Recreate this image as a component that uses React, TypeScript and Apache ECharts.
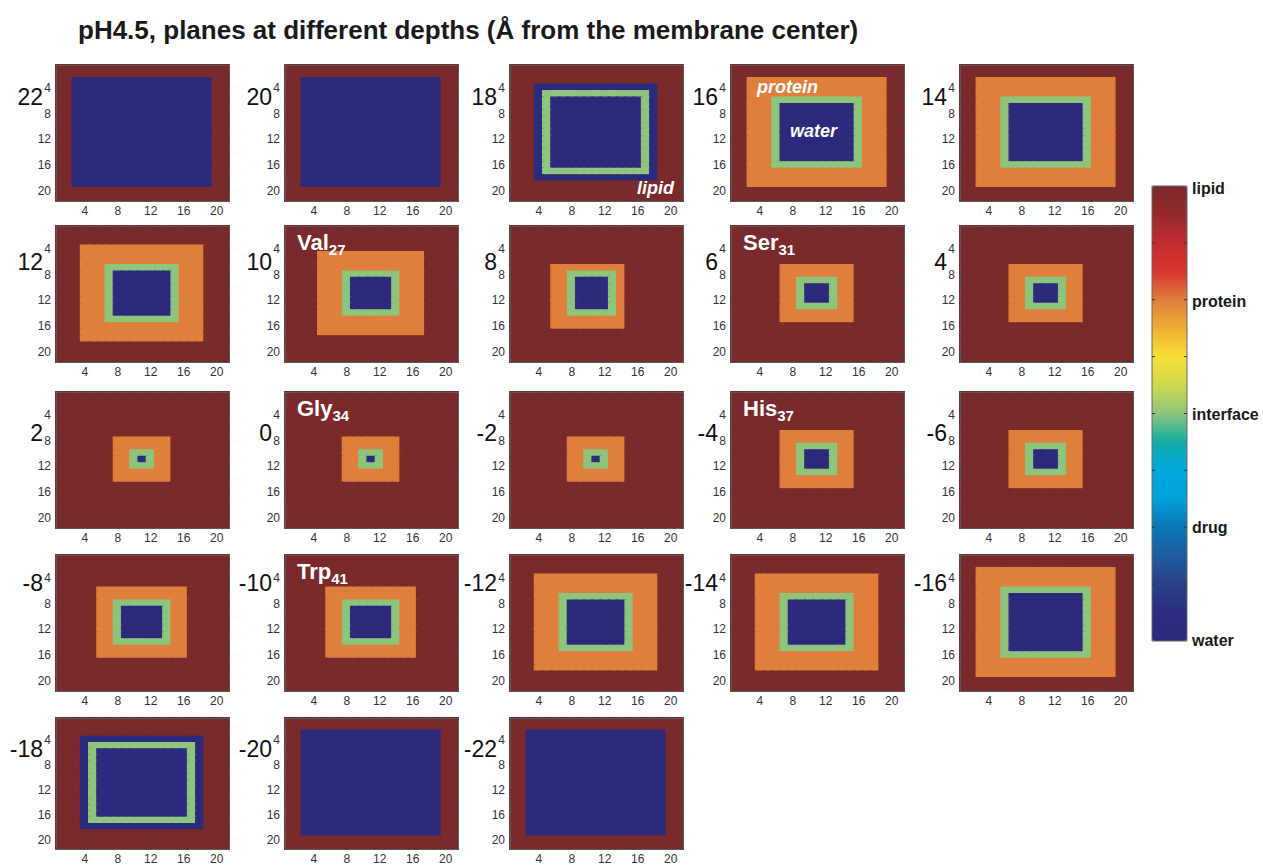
import React, { useEffect, useRef } from 'react';
import * as echarts from 'echarts';

const TITLE = 'pH4.5, planes at different depths (Å from the membrane center)';
const DEPTHS = [22, 20, 18, 16, 14, 12, 10, 8, 6, 4, 2, 0, -2, -4, -6, -8, -10, -12, -14, -16, -18, -20, -22];
const CELLS = ['1', '2', '3', '4', '5', '6', '7', '8', '9', '10', '11', '12', '13', '14', '15', '16', '17', '18', '19', '20', '21'];
const TICK_LABELS = ['4', '8', '12', '16', '20'];
const LEVEL_NAMES = ['water', 'drug', 'interface', 'protein', 'lipid']; // values 1..5

const W = 1; // water
const I = 3; // interface
const P = 4; // protein
const L = 5; // lipid (background)

// boxes: [level, firstCol, lastCol, firstRow, lastRow], painted in order over lipid
const PANEL_BOXES: number[][][] = [
  [[W, 3, 19, 3, 19]], // 22
  [[W, 3, 19, 3, 19]], // 20
  [[W, 4, 18, 4, 18], [I, 5, 17, 5, 17], [W, 6, 16, 6, 16]], // 18
  [[P, 3, 19, 3, 19], [I, 6, 16, 6, 16], [W, 7, 15, 7, 15]], // 16
  [[P, 3, 19, 3, 19], [I, 6, 16, 6, 16], [W, 7, 15, 7, 15]], // 14
  [[P, 4, 18, 4, 18], [I, 7, 15, 7, 15], [W, 8, 14, 8, 14]], // 12
  [[P, 5, 17, 5, 17], [I, 8, 14, 8, 14], [W, 9, 13, 9, 13]], // 10
  [[P, 6, 14, 7, 16], [I, 8, 13, 8, 14], [W, 9, 12, 9, 13]], // 8
  [[P, 7, 15, 7, 15], [I, 9, 13, 9, 13], [W, 10, 12, 10, 12]], // 6
  [[P, 7, 15, 7, 15], [I, 9, 13, 9, 13], [W, 10, 12, 10, 12]], // 4
  [[P, 8, 14, 8, 14], [I, 10, 12, 10, 12], [W, 11, 11, 11, 11]], // 2
  [[P, 8, 14, 8, 14], [I, 10, 12, 10, 12], [W, 11, 11, 11, 11]], // 0
  [[P, 8, 14, 8, 14], [I, 10, 12, 10, 12], [W, 11, 11, 11, 11]], // -2
  [[P, 7, 15, 7, 15], [I, 9, 13, 9, 13], [W, 10, 12, 10, 12]], // -4
  [[P, 7, 15, 7, 15], [I, 9, 13, 9, 13], [W, 10, 12, 10, 12]], // -6
  [[P, 6, 16, 6, 16], [I, 8, 14, 8, 14], [W, 9, 13, 9, 13]], // -8
  [[P, 6, 16, 6, 16], [I, 8, 14, 8, 14], [W, 9, 13, 9, 13]], // -10
  [[P, 4, 18, 4, 18], [I, 7, 15, 7, 15], [W, 8, 14, 8, 14]], // -12
  [[P, 4, 18, 4, 18], [I, 7, 15, 7, 15], [W, 8, 14, 8, 14]], // -14
  [[P, 3, 19, 3, 19], [I, 6, 16, 6, 16], [W, 7, 15, 7, 15]], // -16
  [[W, 4, 18, 4, 18], [I, 5, 17, 5, 17], [W, 6, 16, 6, 16]], // -18
  [[W, 3, 19, 3, 19]], // -20
  [[W, 3, 19, 3, 19]], // -22
];

const RESIDUE_NAMES = ['Val', 'Ser', 'Gly', 'His', 'Trp'];
const RESIDUE_NUMBERS = ['27', '31', '34', '37', '41'];
const RESIDUE_DEPTHS = [10, 6, 0, -4, -10];

// jet-like colormap, water (bottom) -> lipid (top)
const CMAP = [
  '#2b2a7c', '#2b2d80', '#2a4088', '#1d5c9e', '#0b76b5', '#00a2da', '#00a7df', '#14aba5',
  '#8cc57b', '#cfd94f', '#f8e035', '#eeae35', '#e07e3b', '#d8352f', '#c02d2f', '#952a2c', '#7a2a2b',
];

const FONT = "'Liberation Sans', Arial, Helvetica, sans-serif";
const COL_LEFT = [56, 285, 510, 731, 960];
const ROW_TOP = [65, 226, 392, 555, 718];
const ROW_LABEL_DY = [32, 36, 41, 28, 31];
const PW = 173;
const PH = 136;
const CB = { x: 1152, y: 186, w: 35, h: 455 };

function levelColor(v: number) {
  return CMAP[Math.round(((v - 1) / (LEVEL_NAMES.length - 1)) * (CMAP.length - 1))];
}

function panelData(boxes: number[][]) {
  const n = CELLS.length;
  const g: number[][] = [];
  for (let r = 0; r < n; r++) {
    g.push([]);
    for (let c = 0; c < n; c++) g[r].push(L);
  }
  boxes.forEach(([v, c0, c1, r0, r1]) => {
    for (let r = r0; r <= r1; r++) for (let c = c0; c <= c1; c++) g[r - 1][c - 1] = v;
  });
  const out: any[] = [];
  for (let r = 0; r < n; r++) {
    for (let c = 0; c < n; c++) {
      out.push({ value: [c, r, g[r][c]], itemStyle: { borderColor: levelColor(g[r][c]), borderWidth: 1.4 } });
    }
  }
  return out;
}

function measure(text: string, font: string) {
  const ctx = document.createElement('canvas').getContext('2d');
  if (!ctx) return text.length * 10;
  ctx.font = font;
  return ctx.measureText(text).width;
}

export default function App() {
  const ref = useRef<HTMLDivElement>(null);
  useEffect(() => {
    if (!ref.current) return;
    const chart = echarts.init(ref.current, null, { renderer: 'svg' });
    const grids: any[] = [];
    const xAxes: any[] = [];
    const yAxes: any[] = [];
    const series: any[] = [];
    const graphic: any[] = [];
    const labelShown = (idx: number) => TICK_LABELS.indexOf(CELLS[idx]) >= 0;
    const tickShown = (idx: number) => (idx + 1) % 2 === 0;
    const lineStyle = { color: '#5a5a5a', width: 1 };
    const tickStyle = { color: '#444', width: 1 };

    DEPTHS.forEach((depth, i) => {
      const col = i % 5;
      const row = Math.floor(i / 5);
      const left = COL_LEFT[col];
      const top = ROW_TOP[row];
      grids.push({ left, top, width: PW, height: PH, containLabel: false });
      const baseAxis = {
        type: 'category',
        gridIndex: i,
        data: CELLS,
        z: 10,
        axisLine: { show: true, lineStyle },
        axisTick: { show: true, inside: true, length: 3, alignWithLabel: true, interval: tickShown, lineStyle: tickStyle },
        splitLine: { show: false },
        splitArea: { show: false },
      };
      xAxes.push({
        ...baseAxis,
        position: 'bottom',
        axisLabel: { show: true, interval: labelShown, fontSize: 12, color: '#333', margin: 4, fontFamily: FONT },
      });
      xAxes.push({ ...baseAxis, position: 'top', axisLabel: { show: false } });
      yAxes.push({
        ...baseAxis,
        inverse: true,
        position: 'left',
        axisLabel: { show: true, interval: labelShown, fontSize: 12, color: '#333', margin: 5, fontFamily: FONT },
      });
      yAxes.push({ ...baseAxis, inverse: true, position: 'right', axisLabel: { show: false } });
      series.push({
        type: 'heatmap',
        xAxisIndex: 2 * i,
        yAxisIndex: 2 * i,
        data: panelData(PANEL_BOXES[i]),
        emphasis: { disabled: true },
        silent: true,
        progressive: 0,
      });
      graphic.push({
        type: 'text',
        x: left - 13,
        y: top + ROW_LABEL_DY[row],
        style: {
          text: String(depth), fill: '#111', fontSize: 23, fontFamily: FONT,
          textAlign: 'right', align: 'right', textVerticalAlign: 'middle', verticalAlign: 'middle',
        },
      });
    });

    // title
    graphic.push({
      type: 'text', x: 78, y: 30,
      style: {
        text: TITLE, fill: '#1a1a1a', fontSize: 26, fontWeight: 'bold', fontFamily: FONT,
        textAlign: 'left', align: 'left', textVerticalAlign: 'middle', verticalAlign: 'middle',
      },
    });

    const white = (text: string, x: number, y: number, size: number, italic: boolean) => ({
      type: 'text', x, y, z: 50,
      style: {
        text, fill: '#ffffff', fontSize: size, fontWeight: 'bold', fontStyle: italic ? 'italic' : 'normal',
        fontFamily: FONT, textAlign: 'left', align: 'left', textVerticalAlign: 'middle', verticalAlign: 'middle',
      },
    });

    // region labels on the +16 and +18 panels
    const p16 = DEPTHS.indexOf(16);
    const p18 = DEPTHS.indexOf(18);
    graphic.push(white('protein', COL_LEFT[p16 % 5] + 26, ROW_TOP[Math.floor(p16 / 5)] + 22, 18, true));
    graphic.push(white('water', COL_LEFT[p16 % 5] + 59, ROW_TOP[Math.floor(p16 / 5)] + 66, 18, true));
    graphic.push(white('lipid', COL_LEFT[p18 % 5] + 127, ROW_TOP[Math.floor(p18 / 5)] + 123, 18, true));

    // residue labels
    RESIDUE_NAMES.forEach((name, k) => {
      const idx = DEPTHS.indexOf(RESIDUE_DEPTHS[k]);
      const x = COL_LEFT[idx % 5] + 12;
      const y = ROW_TOP[Math.floor(idx / 5)] + 16.5;
      const w = measure(name, `bold 22px ${FONT}`);
      graphic.push(white(name, x, y, 22, false));
      graphic.push(white(RESIDUE_NUMBERS[k], x + w, y + 7, 15, false));
    });

    // colorbar frame, ticks and labels
    graphic.push({
      type: 'rect', z: 60,
      shape: { x: CB.x, y: CB.y, width: CB.w, height: CB.h },
      style: { fill: 'none', stroke: '#666', lineWidth: 1 },
    });
    for (let k = 1; k < 8; k++) {
      const ty = CB.y + (k * CB.h) / 8;
      graphic.push({ type: 'line', z: 60, shape: { x1: CB.x, y1: ty, x2: CB.x + 3, y2: ty }, style: { stroke: '#333', lineWidth: 1 } });
      graphic.push({ type: 'line', z: 60, shape: { x1: CB.x + CB.w - 3, y1: ty, x2: CB.x + CB.w, y2: ty }, style: { stroke: '#333', lineWidth: 1 } });
    }
    LEVEL_NAMES.forEach((name, v) => {
      const frac = (LEVEL_NAMES.length - 1 - v) / (LEVEL_NAMES.length - 1);
      graphic.push({
        type: 'text', x: CB.x + CB.w + 5, y: CB.y + 2 + frac * (CB.h - 3),
        style: {
          text: name, fill: '#1a1a1a', fontSize: 16, fontWeight: 'bold', fontFamily: FONT,
          textAlign: 'left', align: 'left', textVerticalAlign: 'middle', verticalAlign: 'middle',
        },
      });
    });

    chart.setOption({
      animation: false,
      backgroundColor: '#ffffff',
      grid: grids,
      xAxis: xAxes,
      yAxis: yAxes,
      visualMap: {
        type: 'continuous',
        min: 1,
        max: 5,
        show: true,
        calculable: false,
        hoverLink: false,
        left: CB.x,
        top: CB.y,
        itemWidth: CB.w,
        itemHeight: CB.h,
        padding: 0,
        text: ['', ''],
        inRange: { color: CMAP },
      },
      series,
      graphic,
    });
    return () => chart.dispose();
  }, []);
  return <div ref={ref} style={{ position: 'fixed', left: 0, top: 0, width: 1263, height: 865 }} />;
}
